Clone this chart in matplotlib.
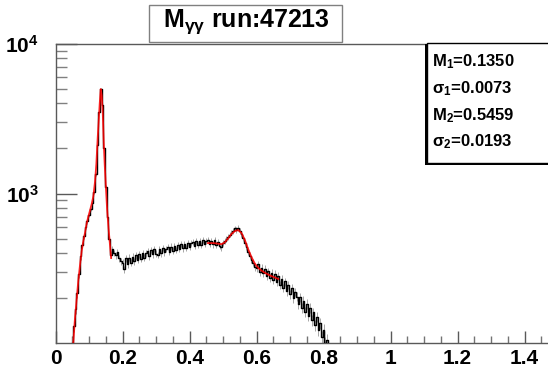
import numpy as np
import matplotlib
matplotlib.use("Agg")
import matplotlib.pyplot as plt
from matplotlib.patches import Rectangle
from matplotlib.ticker import FixedLocator, MultipleLocator

plt.rcParams["font.family"] = ["Liberation Sans", "DejaVu Sans"]
plt.rcParams["mathtext.fontset"] = "custom"
plt.rcParams["mathtext.rm"] = "Liberation Sans:bold"
plt.rcParams["mathtext.bf"] = "Liberation Sans:bold"
plt.rcParams["mathtext.it"] = "Liberation Sans:bold"

# histogram: bin centres start at 0.050, step 0.005
hist_start = 0.050
hist_step = 0.005
counts = [
    100, 130, 170, 215, 290, 380, 455, 520, 600, 650,
    720, 790, 870, 1030, 1350, 2100, 3500, 5000, 3900, 2000,
    1100, 700, 500, 390, 425, 400, 385, 405, 370, 352,
    345, 312, 368, 338, 372, 344, 378, 352, 386, 360,
    392, 365, 400, 372, 398, 410, 380, 418, 392, 425,
    396, 388, 428, 398, 432, 404, 424, 438, 408, 442,
    415, 448, 420, 452, 426, 458, 430, 462, 434, 470,
    440, 464, 476, 446, 480, 450, 484, 455, 486, 457,
    480, 492, 460, 484, 456, 488, 454, 476, 446, 436,
    468, 482, 498, 515, 531, 548, 562, 585, 570, 592,
    560, 535, 505, 468, 440, 405, 382, 360, 345, 322,
    318, 336, 300, 318, 292, 314, 282, 302, 274, 296,
    264, 290, 256, 280, 246, 268, 234, 258, 222, 244,
    212, 234, 200, 220, 204, 182, 202, 172, 192, 162,
    182, 152, 172, 142, 160, 132, 150, 122, 136, 110,
    122, 100, 104, 90, 88,
]

# fit around the pi0 peak
fit1_x = [0.053, 0.058, 0.063, 0.068, 0.073, 0.078, 0.083, 0.088, 0.093, 0.098,
          0.103, 0.108, 0.113, 0.118, 0.122, 0.126, 0.129, 0.132, 0.135, 0.138,
          0.141, 0.144, 0.147, 0.150, 0.154, 0.158, 0.162, 0.166]
fit1_y = [100, 145, 194, 260, 330, 410, 480, 545, 630, 700,
          770, 850, 960, 1200, 1580, 2370, 3070, 4000, 5000, 4500,
          3500, 2200, 1550, 1150, 790, 597, 470, 370]

# fit around the eta peak
fit2_x = [0.455, 0.465, 0.475, 0.485, 0.495, 0.505, 0.515, 0.525, 0.535, 0.545,
          0.555, 0.565, 0.575, 0.585, 0.595, 0.605, 0.615, 0.625, 0.635, 0.645,
          0.655, 0.665]
fit2_y = [466, 466, 465, 462, 458, 470, 500, 535, 560, 570,
          545, 490, 425, 375, 340, 318, 305, 295, 287, 280,
          274, 268]

stats = [r"M$_1$=0.1350", "\u03c3$_1$=0.0073", r"M$_2$=0.5459", "\u03c3$_2$=0.0193"]
title = r"M$_{\gamma\gamma}$ run:47213"

W, H = 548, 367
fig = plt.figure(figsize=(W / 100, H / 100), dpi=100)
ax = fig.add_axes([55.5 / W, (H - 343) / H, (W - 55.5) / W, 299 / H])

centres = hist_start + hist_step * np.arange(len(counts))
counts = np.array(counts, dtype=float)
ax.errorbar(centres, counts, yerr=np.sqrt(counts), fmt="none", ecolor="0.6", elinewidth=0.6, zorder=2)
ax.step(centres, counts, where="mid", color="black", lw=1.0, zorder=3)
ax.plot(fit1_x, fit1_y, color="red", lw=1.3, alpha=0.85, zorder=4)
ax.plot(fit2_x, fit2_y, color="red", lw=1.3, alpha=0.85, zorder=4)

ax.set_yscale("log")
ax.set_xlim(0, (W - 55.5) / 335)
ax.set_ylim(100, 1e4)

ax.xaxis.set_minor_locator(MultipleLocator(0.05))
ax.set_xticks(np.arange(0, 1.41, 0.2))
ax.set_xticklabels(["0", "0.2", "0.4", "0.6", "0.8", "1", "1.2", "1.4"], fontweight="bold", fontsize=15)
ax.yaxis.set_major_locator(FixedLocator([1e3, 1e4]))
ax.yaxis.set_minor_locator(FixedLocator([m * d for d in (100, 1000) for m in range(2, 10)]))
ax.set_yticklabels([r"$\mathbf{10^{3}}$", r"$\mathbf{10^{4}}$"], fontsize=15)

ax.tick_params(axis="x", which="major", direction="in", length=9, width=1, color="0.35", pad=4)
ax.tick_params(axis="x", which="minor", direction="in", length=5, width=1, color="0.45")
ax.tick_params(axis="y", which="major", direction="in", length=15, width=1, color="0.35", pad=12)
ax.tick_params(axis="y", which="minor", direction="in", length=8, width=1, color="0.5")
for s in ("left", "bottom", "top"):
    ax.spines[s].set_color("0.35")
    ax.spines[s].set_linewidth(1)
ax.spines["right"].set_visible(False)

# title box
fig.patches.append(Rectangle((149 / W, (H - 42) / H), 193 / W, 37 / H, transform=fig.transFigure,
                             facecolor="white", edgecolor="0.5", lw=1, zorder=5))
fig.text(246 / W, (H - 22) / H, title, ha="center", va="center", fontsize=18, fontweight="bold", zorder=6)

# stats box with shadow
fig.patches.append(Rectangle((425 / W, (H - 165) / H), 130 / W, 121 / H, transform=fig.transFigure,
                             facecolor="black", edgecolor="black", lw=0, zorder=5))
fig.patches.append(Rectangle((427 / W, (H - 163) / H), 130 / W, 120 / H, transform=fig.transFigure,
                             facecolor="white", edgecolor="black", lw=1, zorder=5))
for i, s in enumerate(stats):
    fig.text(432 / W, (H - (62 + 26.7 * i)) / H, s, ha="left", va="center", fontsize=12,
             fontweight="bold", zorder=6)

fig.savefig("out.png", dpi=100)
